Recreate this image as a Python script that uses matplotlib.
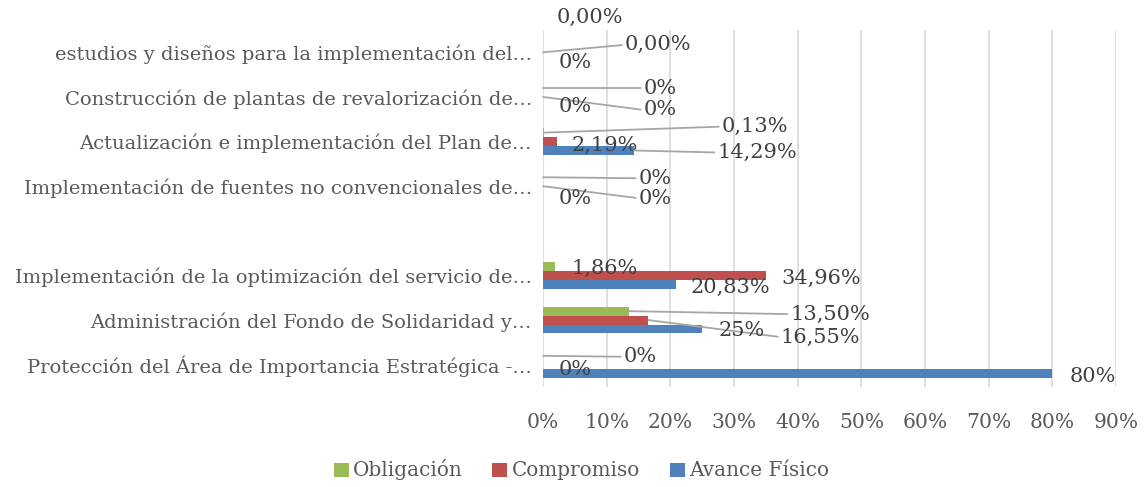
import numpy as np
import matplotlib
matplotlib.use("Agg")
import matplotlib.pyplot as plt

categories = [
    "Protección del Área de Importancia Estratégica -…",
    "Administración del Fondo de Solidaridad y…",
    "Implementación de la optimización del servicio de…",
    "",
    "Implementación de fuentes no convencionales de…",
    "Actualización e implementación del Plan de…",
    "Construcción de plantas de revalorización de…",
    "estudios y diseños para la implementación del…",
]
avance = [0.80, 0.25, 0.2083, np.nan, 0.0, 0.1429, 0.0, 0.0]
compromiso = [0.0, 0.1655, 0.3496, np.nan, 0.0, 0.0219, 0.0, 0.0]
obligacion = [0.0, 0.1350, 0.0186, np.nan, 0.0, 0.0013, 0.0, 0.0]

avance_lbl = ["80%", "25%", "20,83%", "", "0%", "14,29%", "0%", "0%"]
compromiso_lbl = ["0%", "16,55%", "34,96%", "", "0%", "2,19%", "0%", "0,00%"]
obligacion_lbl = ["0%", "13,50%", "1,86%", "", "0%", "0,13%", "0%", "0,00%"]

series_names = ["Obligación", "Compromiso", "Avance Físico"]
colors = ["#9BBB59", "#C0504D", "#4F81BD"]

# label offsets in pixels (dx, dy) from bar end, and whether a leader line is drawn
obl_off = [(97, -1, True), (201, -3, True), (50, -1.5, False), None, (112, -1, True),
           (211, 6, True), (117, 0, True), (47, 25.5, False)]
com_off = [(32, -5, False), (172, -17, True), (56, -2.5, False), None, (112, -12, True),
           (48, -4, False), (117, -13, True), (115, 7.5, True)]
ava_off = [(40, -3, False), (40, -2, False), (55, -3, False), None, (32, -3, False),
           (123, -2, True), (32, -1, False), (32, -1.5, False)]

plt.rcParams['font.family'] = ['DejaVu Serif']
txt_color = "#595959"
data_color = "#404040"
fs_cat = 14
fs_tick = 14.6
fs_data = 15
fs_leg = 14.4

fig = plt.figure(figsize=(11.44, 4.87), dpi=100)
ax = fig.add_axes([543/1144, 1-387/487, 573/1144, 357/487])

y = np.arange(len(categories))
h = 0.2
all_vals = [obligacion, compromiso, avance]
all_lbls = [obligacion_lbl, compromiso_lbl, avance_lbl]
all_offs = [obl_off, com_off, ava_off]
shifts = [h, 0, -h]
for vals, lbls, offs, col, name, sh in zip(all_vals, all_lbls, all_offs, colors, series_names, shifts):
    v = np.nan_to_num(np.array(vals, dtype=float))
    ax.barh(y + sh, v, height=h, color=col, label=name, zorder=3)
    for i, (val, lb, off) in enumerate(zip(vals, lbls, offs)):
        if off is None or np.isnan(val):
            continue
        dx, dy, lead = off
        kw = dict(xy=(val, y[i] + sh), xytext=(dx, dy), textcoords='offset pixels',
                  ha='center', va='center', fontsize=fs_data, color=data_color, zorder=5,
                  annotation_clip=False)
        if lead:
            kw['arrowprops'] = dict(arrowstyle='-', color='#A6A6A6', lw=1.3,
                                    shrinkA=0, shrinkB=0, relpos=(0, 0.5))
        ax.annotate(lb, **kw)

ax.set_xlim(0, 0.9)
ax.set_ylim(-0.5, len(categories) - 0.5)
ax.set_yticks(y)
ax.set_yticklabels(categories, fontsize=fs_cat, color=txt_color)
xt = np.arange(0, 0.91, 0.1)
ax.set_xticks(xt)
ax.set_xticklabels([f"{int(round(t*100))}%" for t in xt], fontsize=fs_tick, color=txt_color)
ax.tick_params(axis='y', length=0, pad=8)
ax.tick_params(axis='x', length=0, pad=19)
for s in ax.spines.values():
    s.set_visible(False)
ax.grid(axis='x', color='#D9D9D9', lw=1.2, zorder=0)
ax.set_axisbelow(True)

handles, labels = ax.get_legend_handles_labels()
fig.legend(handles, labels, loc='center', bbox_to_anchor=(0.508, 1-470/487), ncol=3,
           frameon=False, fontsize=fs_leg, handlelength=0.75, handleheight=0.7,
           columnspacing=1.5, handletextpad=0.2, labelcolor=txt_color)

fig.savefig("out.png", dpi=100)
